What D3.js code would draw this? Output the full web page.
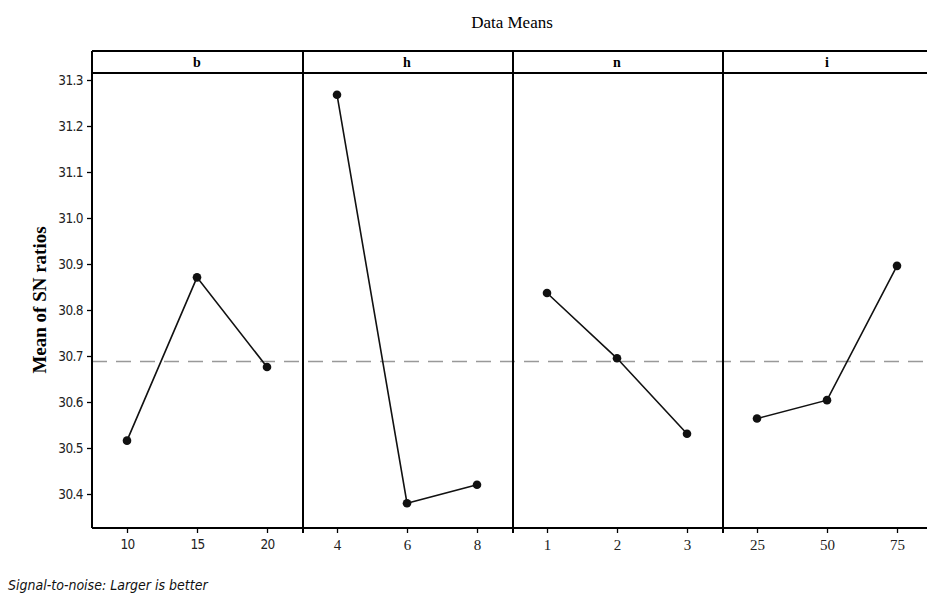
<!DOCTYPE html>
<html><head><meta charset="utf-8">
<script src="https://cdn.jsdelivr.net/npm/d3@7/dist/d3.min.js"></script>
<style>body{margin:0;background:#fff}</style>
</head><body><svg id="c" width="927" height="597"></svg>
<script>
const factors = ["b", "h", "n", "i"];
const levels = [["10","15","20"], ["4","6","8"], ["1","2","3"], ["25","50","75"]];
const means = [
  [30.516, 30.871, 30.676],
  [31.268, 30.380, 30.420],
  [30.837, 30.695, 30.531],
  [30.564, 30.604, 30.896]
];
const grandMean = 30.688;
const yTicks = [30.4, 30.5, 30.6, 30.7, 30.8, 30.9, 31.0, 31.1, 31.2, 31.3];

(function(){
const svg = d3.select("#c");
const left = 92, panelW = 210, frameTop = 51, stripH = 22, bottom = 528;
const plotTop = frameTop + stripH;
const y = d3.scaleLinear().domain([30.4, 31.3]).range([494, 80]);
const serif = "'Liberation Serif', 'Times New Roman', serif";
const sans = "'DejaVu Sans Condensed', 'DejaVu Sans', sans-serif";

svg.append("text").attr("x", left + panelW*2).attr("y", 28).attr("text-anchor","middle")
  .attr("font-family", serif).attr("font-size", 17).text("Data Means");

svg.append("text").attr("transform","translate(46,300) rotate(-90)").attr("text-anchor","middle")
  .attr("font-family", serif).attr("font-weight","bold").attr("font-size", 19).text("Mean of SN ratios");

const yAxis = svg.append("g").attr("transform",`translate(${left},0)`)
  .call(d3.axisLeft(y).tickValues(yTicks).tickFormat(d3.format(".1f")).tickSize(5).tickSizeOuter(0));
yAxis.select(".domain").remove();
yAxis.selectAll("line").attr("stroke","#000").attr("stroke-width",1.3);
yAxis.selectAll("text").attr("font-family", sans).attr("font-size", 13.5).attr("fill","#222")
  .attr("letter-spacing", -0.6).attr("dx", -1);

svg.append("line").attr("x1", left).attr("x2", 927).attr("y1", y(grandMean)).attr("y2", y(grandMean))
  .attr("stroke","#999").attr("stroke-width",1.6).attr("stroke-dasharray","15,9");

factors.forEach((f, i) => {
  const x0 = left + i*panelW;
  const x = d3.scalePoint().domain(levels[i]).range([x0, x0 + panelW]).padding(0.5);
  svg.append("text").attr("x", x0 + panelW/2).attr("y", frameTop + 16).attr("text-anchor","middle")
    .attr("font-family", serif).attr("font-weight","bold").attr("font-size", 14).text(f);
  const ax = svg.append("g").attr("transform",`translate(0,${bottom})`)
    .call(d3.axisBottom(x).tickSize(5).tickSizeOuter(0));
  ax.select(".domain").remove();
  ax.selectAll("line").attr("stroke","#000").attr("stroke-width",1.3);
  ax.selectAll("text").attr("font-family", i === 0 ? sans : serif).attr("font-size", i === 0 ? 13.5 : 15)
    .attr("letter-spacing", i === 0 ? -0.6 : 0)
    .attr("fill","#222").attr("dy","0.95em");
  const pts = levels[i].map((l, k) => [x(l), y(means[i][k])]);
  svg.append("path").attr("d", d3.line()(pts)).attr("fill","none").attr("stroke","#111").attr("stroke-width",1.6);
  svg.selectAll(null).data(pts).enter().append("circle")
    .attr("cx", d => d[0]).attr("cy", d => d[1]).attr("r", 4.3).attr("fill","#111");
});

const fr = svg.append("g").attr("stroke","#000").attr("stroke-width",2).attr("fill","none");
fr.append("line").attr("x1", left).attr("x2", 927).attr("y1", frameTop).attr("y2", frameTop);
fr.append("line").attr("x1", left).attr("x2", 927).attr("y1", plotTop).attr("y2", plotTop);
fr.append("line").attr("x1", left).attr("x2", 927).attr("y1", bottom).attr("y2", bottom);
d3.range(4).forEach(i => {
  const xx = left + i*panelW + (i>0 ? 1 : 0);
  fr.append("line").attr("x1", xx).attr("x2", xx).attr("y1", frameTop).attr("y2", bottom + (i>0 ? 5 : 0));
});

svg.append("text").attr("x", 8).attr("y", 590).attr("font-family", sans).attr("font-style","italic")
  .attr("font-size", 14).attr("fill","#111").text("Signal-to-noise: Larger is better");
})();
</script></body></html>
